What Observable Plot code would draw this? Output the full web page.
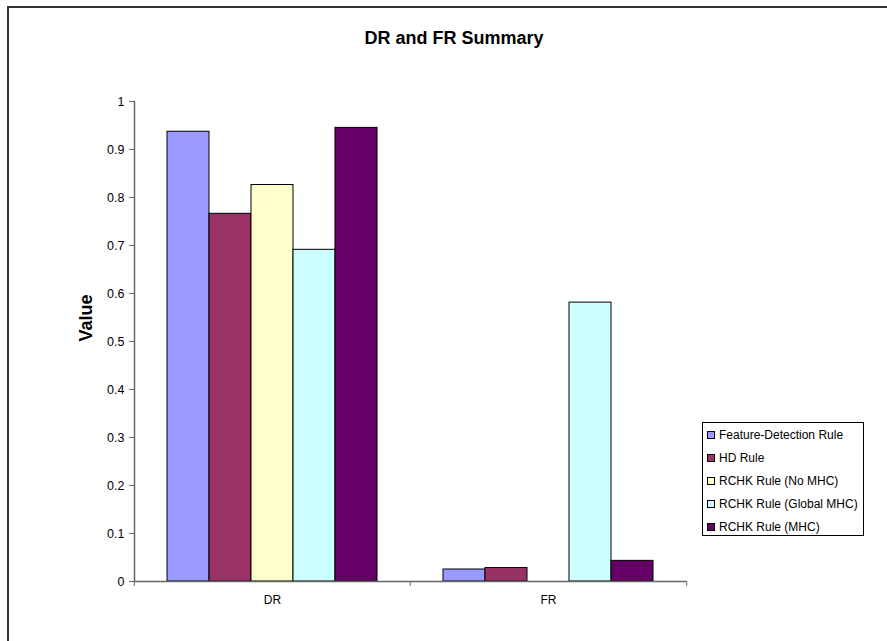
<!DOCTYPE html>
<html>
<head>
<meta charset="utf-8">
<script src="https://cdn.jsdelivr.net/npm/d3@7"></script>
<script src="https://cdn.jsdelivr.net/npm/@observablehq/plot@0.6"></script>
<style>
html, body { margin: 0; padding: 0; background: #fff; overflow: hidden; }
#wrap { position: relative; width: 887px; height: 641px; overflow: hidden; font-family: Arial, "Liberation Sans", sans-serif; color: #000; }
#border { position: absolute; left: 7px; top: 6px; width: 1000px; height: 1000px; border: 2px solid #333; box-sizing: border-box; }
#chart { position: absolute; left: 0; top: 0; }
#title { position: absolute; left: 0; width: 908px; top: 28px; text-align: center; font-weight: bold; font-size: 18px; line-height: 20px; }
#legend { position: absolute; left: 702px; top: 422px; width: 162px; height: 114px; border: 1px solid #000; box-sizing: border-box; background: #fff; padding-top: 1px; }
.item { display: flex; align-items: center; height: 22.8px; font-size: 12px; white-space: nowrap; }
.sw { width: 8px; height: 8px; border: 1px solid #000; box-sizing: border-box; margin-left: 4px; margin-right: 4px; flex: none; }
</style>
</head>
<body>
<div id="wrap">
  <div id="border"></div>
  <div id="chart"></div>
  <div id="title"></div>
  <div id="legend"></div>
</div>
<script>
const titleText = "DR and FR Summary";
const yLabel = "Value";
const categories = ["DR", "FR"];
const series = ["Feature-Detection Rule", "HD Rule", "RCHK Rule (No MHC)", "RCHK Rule (Global MHC)", "RCHK Rule (MHC)"];
const colors = ["#9999FF", "#993366", "#FFFFCC", "#CCFFFF", "#660066"];
const drValues = [0.937, 0.766, 0.826, 0.691, 0.945];
const frValues = [0.025, 0.028, 0, 0.581, 0.043];
const yTicks = [0, 0.1, 0.2, 0.3, 0.4, 0.5, 0.6, 0.7, 0.8, 0.9, 1];

const valuesByCategory = { DR: drValues, FR: frValues };
const data = categories.flatMap(c => series.map((s, i) => ({ category: c, series: s, value: valuesByCategory[c][i] })));

const W = 887, H = 641;
const mL = 133, mR = 201, mT = 101, mB = 60;
const step = (W - mL - mR) / categories.length;
const axisColor = "#666";

const plot = Plot.plot({
  width: W,
  height: H,
  marginLeft: mL,
  marginRight: mR,
  marginTop: mT,
  marginBottom: mB,
  style: { fontFamily: "Arial, 'Liberation Sans', sans-serif", fontSize: "12px", color: "#000", background: "transparent", overflow: "visible" },
  fx: { domain: categories, paddingInner: 0, paddingOuter: 0, axis: null, label: null },
  x: { domain: series, paddingInner: 0, paddingOuter: 0.745, axis: null },
  y: { domain: [0, 1], axis: null },
  color: { domain: series, range: colors },
  marks: [
    Plot.barY(data, { fx: "category", x: "series", y: "value", fill: "series", stroke: "#000", strokeWidth: 1, filter: d => d.value > 0 }),
    Plot.ruleY([0], { stroke: axisColor, strokeWidth: 1.5 }),
    Plot.frame({ anchor: "left", facetAnchor: "left", stroke: axisColor, strokeWidth: 1.5 }),
    Plot.axisY({ ticks: yTicks, tickSize: 5, tickPadding: 5, tickFormat: d3.format("~g"), stroke: axisColor, label: null, fontSize: 12.5 }),
    Plot.text([yLabel], { text: d => d, frameAnchor: "left", facetAnchor: "left", rotate: -90, dx: -48, fontSize: 18, fontWeight: "bold" }),
    Plot.axisFx({ anchor: "bottom", tickSize: 0, tickPadding: 14, label: null, fontSize: 12 }),
    Plot.axisFx({ anchor: "bottom", text: null, tickSize: 5, dx: -step / 2, stroke: axisColor, label: null }),
    Plot.axisFx({ anchor: "bottom", ticks: [categories[categories.length - 1]], text: null, tickSize: 5, dx: step / 2, stroke: axisColor, label: null })
  ]
});
document.getElementById("chart").appendChild(plot);
document.getElementById("title").textContent = titleText;

const legend = document.getElementById("legend");
series.forEach((s, i) => {
  const item = document.createElement("div");
  item.className = "item";
  const sw = document.createElement("span");
  sw.className = "sw";
  sw.style.background = colors[i];
  const t = document.createElement("span");
  t.textContent = s;
  item.appendChild(sw);
  item.appendChild(t);
  legend.appendChild(item);
});
</script>
</body>
</html>
